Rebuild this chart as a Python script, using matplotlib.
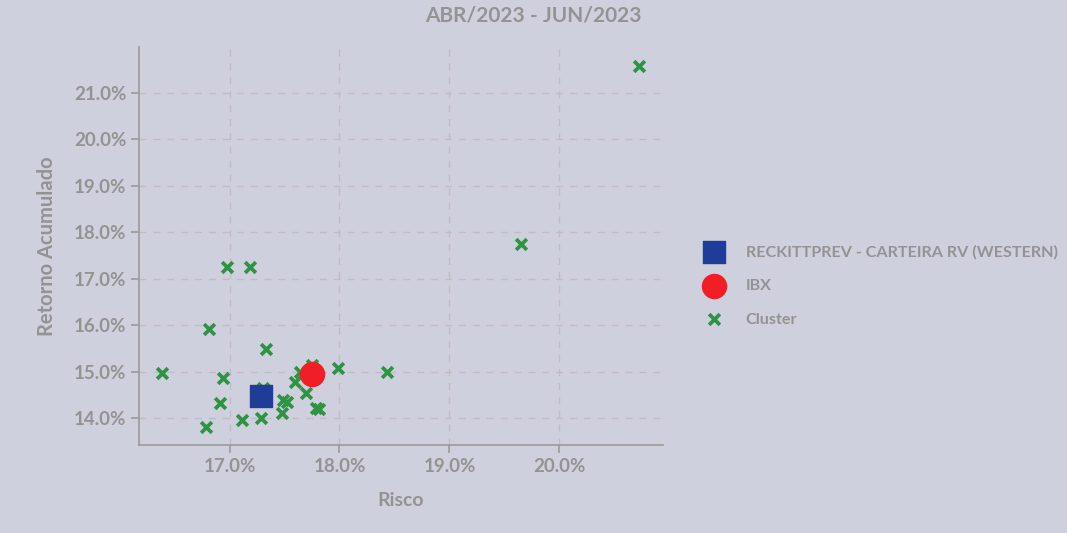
import matplotlib
matplotlib.use("Agg")
import matplotlib.pyplot as plt
from matplotlib.ticker import FuncFormatter

title = "ABR/2023 - JUN/2023"
x_label = "Risco"
y_label = "Retorno Acumulado"

fund_name = "RECKITTPREV - CARTEIRA RV (WESTERN)"
fund_risk = [17.29]
fund_ret = [14.49]

bench_name = "IBX"
bench_risk = [17.75]
bench_ret = [14.96]

cluster_name = "Cluster"
cluster_risk = [20.72, 19.65, 16.975, 17.19, 16.81, 17.33, 16.39, 16.94, 16.91,
                16.79, 17.11, 17.29, 17.305, 17.49, 17.52, 17.48, 17.60, 17.64,
                17.75, 17.70, 17.79, 17.81, 17.99, 18.43]
cluster_ret = [21.57, 17.75, 17.25, 17.26, 15.93, 15.50, 14.98, 14.87, 14.34,
               13.82, 13.97, 14.02, 14.66, 14.40, 14.35, 14.12, 14.79, 15.01,
               15.16, 14.54, 14.23, 14.20, 15.09, 15.01]

x_ticks = [17.0, 18.0, 19.0, 20.0]
y_ticks = [14.0, 15.0, 16.0, 17.0, 18.0, 19.0, 20.0, 21.0]

bg = "#cfd0dd"
txt = "#939393"
plt.rcParams['font.family'] = ['Lato', 'DejaVu Sans']
plt.rcParams['font.weight'] = 'bold'

fig = plt.figure(figsize=(10.67, 5.33), dpi=100, facecolor=bg)
ax = fig.add_axes([0.1306, 0.1651, 0.4905, 0.7462], facecolor=bg)

ax.scatter(cluster_risk, cluster_ret, marker='x', s=60, linewidths=2.7,
           color="#2e9443", label=cluster_name, zorder=3)
ax.scatter(fund_risk, fund_ret, marker='s', s=230, color="#1f3d98",
           label=fund_name, zorder=4)
ax.scatter(bench_risk, bench_ret, marker='o', s=300, color="#f01f25",
           label=bench_name, zorder=5)

ax.set_xlim(16.18, 20.94)
ax.set_ylim(13.43, 21.98)
ax.set_xticks(x_ticks)
ax.set_yticks(y_ticks)
fmt = FuncFormatter(lambda v, p: f"{v:.1f}%")
ax.xaxis.set_major_formatter(fmt)
ax.yaxis.set_major_formatter(fmt)

ax.grid(True, color="#bdbdc6", linestyle=(0, (5, 5)), linewidth=1.0)
ax.set_axisbelow(True)
for s in ['top', 'right']:
    ax.spines[s].set_visible(False)
for s in ['left', 'bottom']:
    ax.spines[s].set_color("#9a9a9a")
    ax.spines[s].set_linewidth(1.2)
ax.tick_params(colors="#9a9a9a", labelcolor=txt, labelsize=13.5, length=6, width=1.2)
for lab in ax.get_xticklabels() + ax.get_yticklabels():
    lab.set_fontweight('bold')

ax.set_xlabel(x_label, color=txt, fontsize=14, fontweight='bold', labelpad=12)
ax.set_ylabel(y_label, color=txt, fontsize=14.5, fontweight='bold', labelpad=12)
fig.text(0.5, 0.97, title, ha='center', va='center', color=txt, fontsize=15,
         fontweight='bold')

handles, labels = ax.get_legend_handles_labels()
order = [1, 2, 0]
leg = fig.legend([handles[i] for i in order], [labels[i] for i in order],
                 loc='center left', bbox_to_anchor=(0.6406, 0.4637), frameon=False,
                 fontsize=11.6, labelcolor=txt, handletextpad=0.95, labelspacing=1.19,
                 scatterpoints=1)
for t in leg.get_texts():
    t.set_fontweight('bold')
leg.legend_handles[0].set_sizes([230])
leg.legend_handles[1].set_sizes([300])
leg.legend_handles[2].set_sizes([60])

fig.savefig("out.png", dpi=100, facecolor=bg)
